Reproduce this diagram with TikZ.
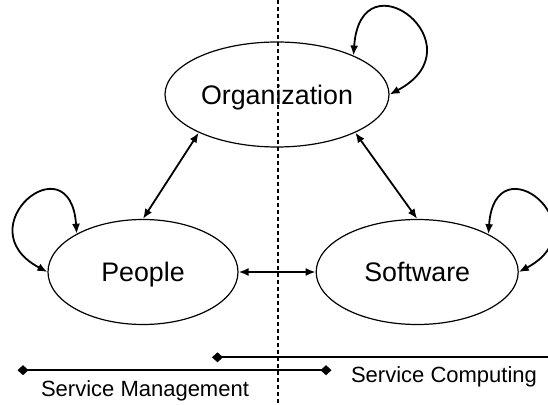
\documentclass[tikz,border=0pt]{standalone}
\usepackage{fontspec}
\setmainfont{Liberation Sans}
\usetikzlibrary{shapes.geometric,positioning,arrows.meta}

\begin{document}
\begin{tikzpicture}[x=1pt,y=1pt,
    ent/.style={ellipse,draw,line width=1.2pt,inner sep=0pt,text depth=0pt,
      minimum height=105pt,font=\fontsize{26.8}{30}\selectfont},
    link/.style={{Latex[length=10pt,width=8pt]}-{Latex[length=10pt,width=8pt]},
      line width=1.8pt},
    span/.style={line width=1.8pt},
    lbl/.style={font=\fontsize{22}{26}\selectfont,inner sep=0pt,anchor=base}]
 \useasboundingbox (0,0) rectangle (548,404);
 % divider
 \coordinate (dtop) at (278,404);
 \coordinate (dbot) at (278,0);
 \draw[line width=1.2pt,dash pattern=on 4pt off 3pt] (dtop) -- (dbot);
 \node[ent,minimum width=224pt] (org) at (277,309.5) {Organization};
 \node[ent,minimum width=190pt] (ppl) at (143,132) {People};
 \node[ent,minimum width=202pt,right=77pt of ppl] (sw) {Software};
 \draw[link] (org.206) -- (ppl.north);
 \draw[link] (org.334) -- (sw.north);
 \draw[link] (ppl.east) -- (sw.west);
 % self loops
 \draw[link] (org.27) to[out=86,in=28,looseness=5] (org.east);
 \draw[link] (sw.28) to[out=86,in=28,looseness=5] (sw.east);
 \draw[link] (ppl.150) to[out=94,in=152,looseness=5] (ppl.west);
 % ranges
 \coordinate (scL) at (212,46.7);
 \coordinate (scR) at (548,46.7);
 \draw[span,{Diamond[length=11pt,width=10pt]}-] (scL) -- (scR);
 \coordinate (smL) at (17.5,33.8);
 \coordinate (smR) at (331.5,33.8);
 \draw[span,{Diamond[length=11pt,width=10pt]}-{Diamond[length=11pt,width=10pt]}] (smL) -- (smR);
 \node[lbl] (sm) at (145,7.4) {Service Management};
 \node[lbl] (sc) at (444,21.4) {Service Computing};
\end{tikzpicture}
\end{document}
